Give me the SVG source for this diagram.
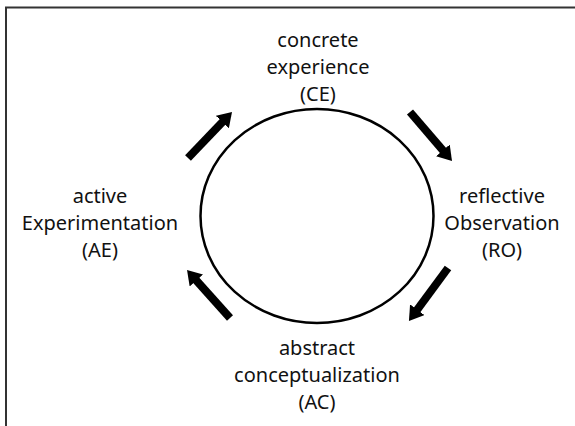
<svg xmlns="http://www.w3.org/2000/svg" width="575" height="426" viewBox="0 0 575 426">
  <style>
    .lbl { font-family: "Noto Sans", "Open Sans", sans-serif; font-size: 20px; fill: #111; text-anchor: middle; }
    .arr { stroke: #000; stroke-width: 8; fill: none; marker-end: url(#head); }
  </style>
  <defs>
    <marker id="head" markerUnits="userSpaceOnUse" viewBox="0 0 14 18" refX="4" refY="9" markerWidth="14" markerHeight="18" orient="auto">
      <path d="M0,0 L14,9 L0,18 Z" fill="#000"/>
    </marker>
  </defs>
  <rect x="0" y="0" width="575" height="426" fill="#fff"/>
  <path d="M6,430 L6,7.5 L580,7.5" fill="none" stroke="#333" stroke-width="2"/>
  <g id="cycle">
    <ellipse cx="317" cy="216" rx="116.5" ry="107" fill="none" stroke="#000" stroke-width="2.5"/>
  </g>
  <g id="CE">
    <text class="lbl" x="318" y="47">concrete</text>
    <text class="lbl" x="318" y="74">experience</text>
    <text class="lbl" x="318" y="101">(CE)</text>
  </g>
  <g id="RO">
    <text class="lbl" x="502" y="203">reflective</text>
    <text class="lbl" x="502" y="230">Observation</text>
    <text class="lbl" x="502" y="257">(RO)</text>
  </g>
  <g id="AC">
    <text class="lbl" x="317" y="355">abstract</text>
    <text class="lbl" x="317" y="382">conceptualization</text>
    <text class="lbl" x="317" y="409">(AC)</text>
  </g>
  <g id="AE">
    <text class="lbl" x="100" y="203">active</text>
    <text class="lbl" x="100" y="230">Experimentation</text>
    <text class="lbl" x="100" y="257">(AE)</text>
  </g>
  <g id="connectors">
    <line class="arr" x1="188" y1="158" x2="225.1" y2="119.2"/>
    <line class="arr" x1="410" y1="112" x2="445.5" y2="153.4"/>
    <line class="arr" x1="448" y1="268" x2="414.9" y2="312.9"/>
    <line class="arr" x1="230" y1="318" x2="193.7" y2="277.5"/>
  </g>
</svg>
